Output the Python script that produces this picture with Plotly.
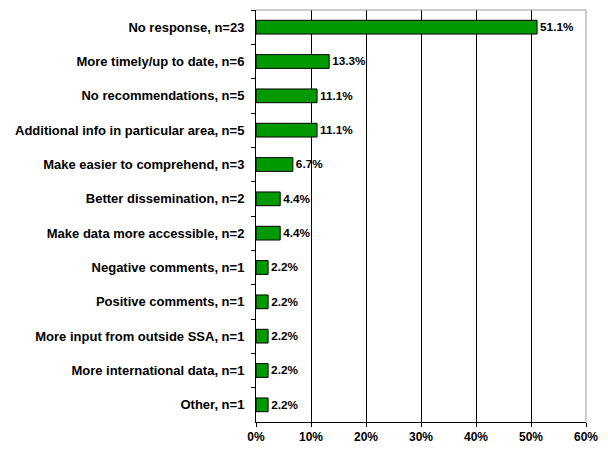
import plotly.graph_objects as go

categories = [
    "No response, n=23",
    "More timely/up to date, n=6",
    "No recommendations, n=5",
    "Additional info in particular area, n=5",
    "Make easier to comprehend, n=3",
    "Better dissemination, n=2",
    "Make data more accessible, n=2",
    "Negative comments, n=1",
    "Positive comments, n=1",
    "More input from outside SSA, n=1",
    "More international data, n=1",
    "Other, n=1",
]
values = [51.1, 13.3, 11.1, 11.1, 6.7, 4.4, 4.4, 2.2, 2.2, 2.2, 2.2, 2.2]
x_ticks = [0, 10, 20, 30, 40, 50, 60]
x_tick_labels = ["0%", "10%", "20%", "30%", "40%", "50%", "60%"]

FONT = "Arial, Liberation Sans, sans-serif"

fig = go.Figure(go.Bar(
    y=categories,
    x=values,
    orientation="h",
    width=0.4,
    marker=dict(color="#009900", line=dict(color="black", width=1)),
    text=[f"{v:.1f}%" for v in values],
    textposition="outside",
    textfont=dict(family=FONT, size=12, color="black", weight="bold"),
    cliponaxis=False,
))

# page body has an 8px default margin; compensate so plot area lands at
# x 256..586, y 10..422 in the 608x452 window
fig.update_layout(
    width=608, height=452,
    margin=dict(l=248, r=30, t=2, b=38),
    paper_bgcolor="white", plot_bgcolor="white",
    showlegend=False,
    xaxis=dict(
        range=[0, 60], tickvals=x_ticks, ticktext=x_tick_labels,
        showgrid=True, gridcolor="black", gridwidth=1,
        showline=True, linecolor="black", linewidth=1,
        ticks="outside", ticklen=4, tickcolor="black",
        tickfont=dict(family=FONT, size=12, color="black", weight="bold"),
        zeroline=False, fixedrange=True,
    ),
    yaxis=dict(
        type="category", categoryorder="array", categoryarray=categories,
        autorange="reversed",
        tickson="boundaries",
        showgrid=False,
        showline=True, linecolor="black", linewidth=1,
        ticks="outside", ticklen=4, tickcolor="black",
        ticklabelstandoff=8,
        tickfont=dict(family=FONT, size=13, color="black", weight="bold"),
        fixedrange=True, automargin=False,
    ),
    shapes=[
        dict(type="line", xref="paper", yref="paper", x0=0, x1=1, y0=1, y1=1,
             line=dict(color="#999999", width=1)),
        dict(type="line", xref="paper", yref="paper", x0=1, x1=1, y0=0, y1=1,
             line=dict(color="#999999", width=1)),
    ],
)

fig.write_html("out.html")
